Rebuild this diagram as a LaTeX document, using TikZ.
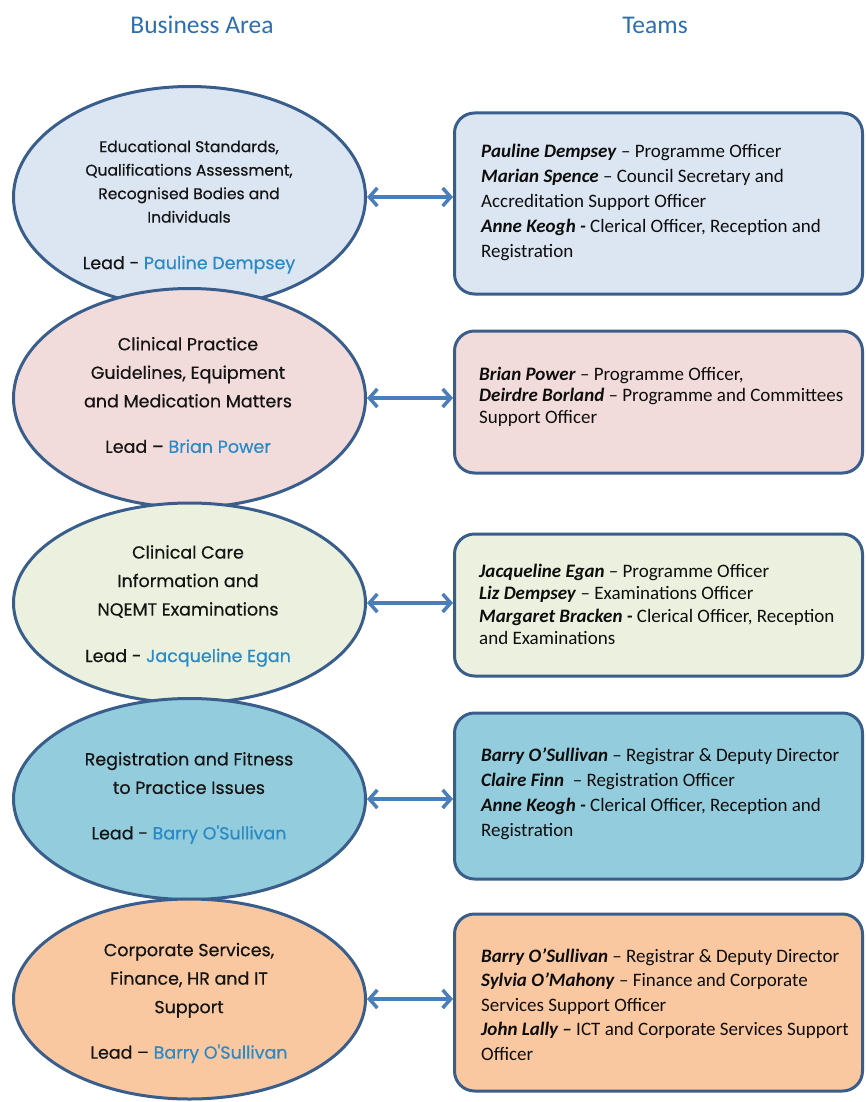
\documentclass[tikz,border=0pt]{standalone}
\usepackage{fontspec}
\setmainfont{Carlito}
\newfontfamily\ellfont[FakeBold=0.5]{Poppins}
\usetikzlibrary{shapes.geometric,arrows.meta}
\definecolor{outl}{HTML}{3A5E8C}
\definecolor{arrc}{HTML}{4A7EBB}
\definecolor{hdr}{HTML}{2E6FAF}
\definecolor{leadc}{HTML}{2A8AC6}
\definecolor{fA}{HTML}{DCE6F2}
\definecolor{fB}{HTML}{F2DCDB}
\definecolor{fC}{HTML}{EBF1DE}
\definecolor{fD}{HTML}{93CDDD}
\definecolor{fE}{HTML}{FAC8A0}
\begin{document}
\begin{tikzpicture}[x=1pt,y=-1pt,
 area/.style={ellipse,draw=outl,line width=3pt,inner sep=0pt,minimum width=352pt},
 areatext/.style={align=center,inner sep=0pt,text=black!92,font=\ellfont\fontsize{17.5}{28.5}\selectfont},
 team/.style={draw=outl,line width=3pt,rounded corners=20pt,inner sep=0pt,minimum width=408pt},
 teamtext/.style={anchor=north west,align=left,inner sep=0pt,text=black!95},
 link/.style={draw=arrc,line width=3.5pt,{Straight Barb[length=8pt,width=18pt]}-{Straight Barb[length=8pt,width=18pt]}},
 head/.style={text=hdr,font=\fontsize{25.5}{30}\selectfont}]
\useasboundingbox (0,0) rectangle (865,1102);
\fill[white] (0,0) rectangle (865,1102);

\node[head] (h1) at (202,25) {Business Area};
\node[head] (h2) at (655,25) {Teams};

% ellipses (drawn top to bottom so each covers the previous one)
\node[area,fill=fA,minimum height=221pt] (e1) at (189.5,197) {};
\node[areatext,font=\ellfont\fontsize{15.5}{23.5}\selectfont] (t1) at (189,207)
 {Educational Standards,\\Qualifications Assessment,\\Recognised Bodies and\\Individuals\\[23pt]{\fontsize{17.5}{20}\selectfont Lead - \textcolor{leadc}{Pauline Dempsey}}};

\node[area,fill=fB,minimum height=219pt] (e2) at (189.5,398) {};
\node[areatext] (t2) at (188,395)
 {Clinical Practice\\Guidelines, Equipment\\and Medication Matters\\[17pt]Lead – \textcolor{leadc}{Brian Power}};

\node[area,fill=fC,minimum height=200pt] (e3) at (189.5,603) {};
\node[areatext] (t3) at (188,606)
 {Clinical Care\\Information and\\NQEMT Examinations\\[18pt]Lead - \textcolor{leadc}{Jacqueline Egan}};

\node[area,fill=fD,minimum height=201pt] (e4) at (189.5,799) {};
\node[areatext] (t4) at (189,798)
 {Registration and Fitness\\to Practice Issues\\[17pt]Lead - \textcolor{leadc}{Barry O'Sullivan}};

\node[area,fill=fE,minimum height=200pt] (e5) at (189.5,999) {};
\node[areatext] (t5) at (189,1003)
 {Corporate Services,\\Finance, HR and IT\\Support\\[17pt]Lead – \textcolor{leadc}{Barry O'Sullivan}};

% team boxes
\node[team,fill=fA,minimum height=181pt] (b1) at (658.5,203.5) {};
\node[teamtext,font=\fontsize{19}{25}\selectfont] (u1) at (481,143.5)
 {\textbf{\textit{Pauline Dempsey}} – Programme Officer\\
  \textbf{\textit{Marian Spence}} – Council Secretary and\\
  Accreditation Support Officer\\
  \textbf{\textit{Anne Keogh -}} Clerical Officer, Reception and\\
  Registration};

\node[team,fill=fB,minimum height=142pt] (b2) at (658.5,402) {};
\node[teamtext,font=\fontsize{19}{21.5}\selectfont] (u2) at (479,366.5)
 {\textbf{\textit{Brian Power}} – Programme Officer,\\
  \textbf{\textit{Deirdre Borland}} – Programme and Committees\\
  Support Officer};

\node[team,fill=fC,minimum height=142pt] (b3) at (658.5,605) {};
\node[teamtext,font=\fontsize{19}{22.5}\selectfont] (u3) at (479,563.5)
 {\textbf{\textit{Jacqueline Egan}} – Programme Officer\\
  \textbf{\textit{Liz Dempsey}} – Examinations Officer\\
  \textbf{\textit{Margaret Bracken -}} Clerical Officer, Reception\\
  and Examinations};

\node[team,fill=fD,minimum height=166pt] (b4) at (658.5,796) {};
\node[teamtext,font=\fontsize{19}{25}\selectfont] (u4) at (481,747.5)
 {\textbf{\textit{Barry O’Sullivan}} – Registrar \& Deputy Director\\
  \textbf{\textit{Claire Finn}}\ \ – Registration Officer\\
  \textbf{\textit{Anne Keogh -}} Clerical Officer, Reception and\\
  Registration};

\node[team,fill=fE,minimum height=177pt] (b5) at (658.5,1002.5) {};
\node[teamtext,font=\fontsize{19}{24.5}\selectfont] (u5) at (481,948.5)
 {\textbf{\textit{Barry O’Sullivan}} – Registrar \& Deputy Director\\
  \textbf{\textit{Sylvia O’Mahony}} – Finance and Corporate\\
  Services Support Officer\\
  \textbf{\textit{John Lally –}} ICT and Corporate Services Support\\
  Officer};

% connectors
\draw[link] (e1.east) -- (e1.east -| b1.west);
\draw[link] (e2.east) -- (e2.east -| b2.west);
\draw[link] (e3.east) -- (e3.east -| b3.west);
\draw[link] (e4.east) -- (e4.east -| b4.west);
\draw[link] (e5.east) -- (e5.east -| b5.west);
\end{tikzpicture}
\end{document}
